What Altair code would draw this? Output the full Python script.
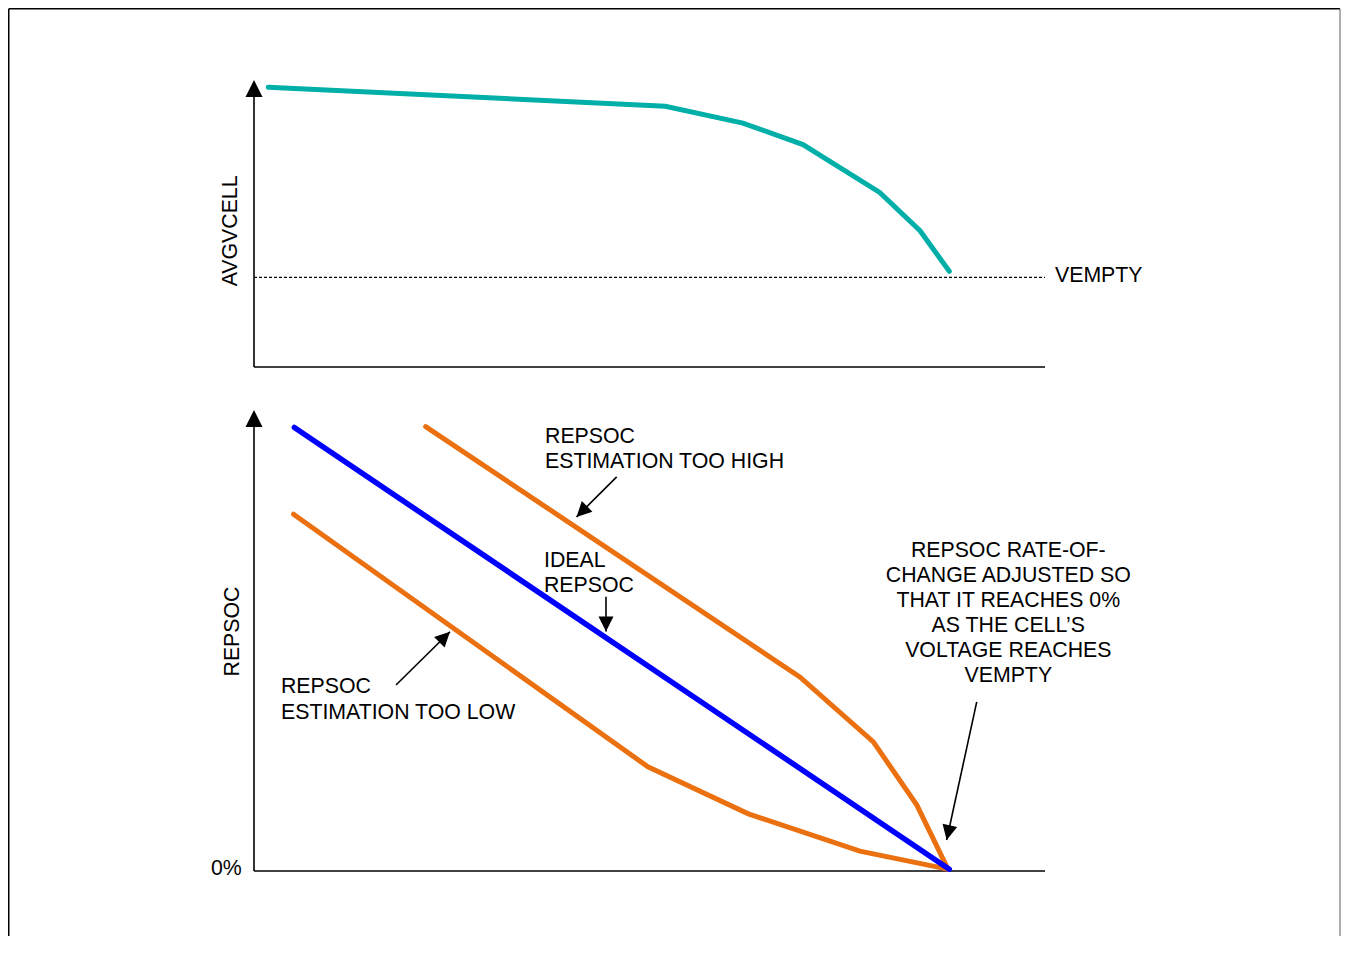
import math
import altair as alt
import pandas as pd

# ---------------- data ----------------
# time axis: 0..100 (% of discharge time), shared by both panels
# top panel: average cell voltage (V)
vcell_t = [1.8, 52.0, 61.8, 69.4, 79.1, 84.2, 87.9]
vcell_v = [4.17, 4.09, 4.02, 3.93, 3.73, 3.57, 3.40]
vempty_v = 3.375

# bottom panel: reported SOC (%)
ideal_t = [5.1, 87.9]
ideal_soc = [96.2, 0.4]
high_t = [21.7, 69.0, 78.3, 83.8, 87.7]
high_soc = [96.4, 42.1, 28.0, 14.3, 0.5]
low_t = [5.0, 49.8, 62.5, 76.6, 87.7]
low_soc = [77.4, 22.6, 12.4, 4.3, 0.4]

# annotation arrows (bottom panel): start -> tip
arr_t1 = [45.85, 44.5, 17.95, 91.37]
arr_s1 = [85.5, 59.5, 40.35, 36.7]
arr_t2 = [40.77, 44.5, 24.78, 87.57]
arr_s2 = [76.8, 51.95, 51.9, 6.72]

# annotation texts (bottom panel)
note_text = ["REPSOC\nESTIMATION TOO HIGH", "IDEAL\nREPSOC", "REPSOC\nESTIMATION TOO LOW"]
note_t = [36.79, 36.66, 3.41]
note_s = [92.9, 66.0, 38.55]
big_note = "REPSOC RATE-OF-\nCHANGE ADJUSTED SO\nTHAT IT REACHES 0%\nAS THE CELL\u2019S\nVOLTAGE REACHES\nVEMPTY"
big_t, big_s = 95.36, 68.2

# ---------------- geometry ----------------
W = 791
TOP_H, BOT_H = 287, 461
X_DOM = [0, 100]
TOP_DOM = [3.0, 4.2]
BOT_DOM = [0, 100]
XPX = W / (X_DOM[1] - X_DOM[0])
YPX_TOP = TOP_H / (TOP_DOM[1] - TOP_DOM[0])
YPX_BOT = BOT_H / (BOT_DOM[1] - BOT_DOM[0])

FONT = "Liberation Sans"
FS = 21.3
TEAL = "#00AFA8"
BLUE = "#0000FF"
ORANGE = "#EB7010"
HEAD = "M0,0 L1,2 L-1,2 Z"


def head_angle(x1, y1, x2, y2, ypx):
    dx = (x2 - x1) * XPX
    dy = -(y2 - y1) * ypx
    return math.degrees(math.atan2(dx, -dy)) % 360


xs = alt.Scale(domain=X_DOM, nice=False, zero=False)
ys_top = alt.Scale(domain=TOP_DOM, nice=False, zero=False)
ys_bot = alt.Scale(domain=BOT_DOM, nice=False, zero=False)


def X(f="x"):
    return alt.X(f"{f}:Q", scale=xs, axis=None)


def line_layer(t, v, color, ys, sw=5):
    df = pd.DataFrame({"x": t, "y": v, "i": range(len(t))})
    return alt.Chart(df).mark_line(color=color, strokeWidth=sw, strokeCap="round",
                                   strokeJoin="miter").encode(
        x=X(), y=alt.Y("y:Q", scale=ys, axis=None), order="i:Q")


def axes_layers(ys, dom, ypx):
    head_len = 17 / ypx
    ax = pd.DataFrame({"x": [0, 0], "y": [dom[0], dom[0]],
                       "x2": [0, 100], "y2": [dom[1] - head_len, dom[0]]})
    rules = alt.Chart(ax).mark_rule(color="black", strokeWidth=1.6).encode(
        x=X(), y=alt.Y("y:Q", scale=ys, axis=None), x2="x2:Q", y2="y2:Q")
    hd = pd.DataFrame({"x": [0], "y": [dom[1]], "a": [0.0]})
    head = alt.Chart(hd).mark_point(shape=HEAD, filled=True, color="black",
                                    opacity=1, size=289, strokeWidth=0).encode(
        x=X(), y=alt.Y("y:Q", scale=ys, axis=None), angle=alt.Angle("a:Q", scale=None))
    return [rules, head]


one = pd.DataFrame({"k": [0]})

# ---------------- top panel ----------------
frame = [
    alt.Chart(one).mark_rule(color="black", strokeWidth=1.5).encode(
        x=alt.value(-245.25), y=alt.value(-71.25), y2=alt.value(856)),
    alt.Chart(one).mark_rule(color="black", strokeWidth=1.5).encode(
        x=alt.value(-245.25), x2=alt.value(1086), y=alt.value(-71.25)),
    alt.Chart(one).mark_rule(color="#777777", strokeWidth=1.2).encode(
        x=alt.value(1086), y=alt.value(-71.25), y2=alt.value(856)),
]

vempty_df = pd.DataFrame({"x": [0], "x2": [100], "y": [vempty_v]})
vempty_rule = alt.Chart(vempty_df).mark_rule(color="black", strokeWidth=1.3,
                                             strokeDash=[3, 2]).encode(
    x=X(), x2="x2:Q", y=alt.Y("y:Q", scale=ys_top, axis=None))

top_txt = pd.DataFrame({"x": [101.26], "y": [3.354], "t": ["VEMPTY"]})
vempty_label = alt.Chart(top_txt).mark_text(font=FONT, fontSize=FS, align="left",
                                            baseline="alphabetic", color="black").encode(
    x=X(), y=alt.Y("y:Q", scale=ys_top, axis=None), text="t:N")

ylab_top = pd.DataFrame({"x": [-2.19], "y": [3.569], "t": ["AVGVCELL"]})
avg_label = alt.Chart(ylab_top).mark_text(font=FONT, fontSize=FS, align="center",
                                          baseline="alphabetic", angle=270,
                                          color="black").encode(
    x=X(), y=alt.Y("y:Q", scale=ys_top, axis=None), text="t:N")

top = alt.layer(
    *frame,
    *axes_layers(ys_top, TOP_DOM, YPX_TOP),
    vempty_rule,
    line_layer(vcell_t, vcell_v, TEAL, ys_top, 5),
    vempty_label,
    avg_label,
).properties(width=W, height=TOP_H)

# ---------------- bottom panel ----------------
arr_df = pd.DataFrame({"x": arr_t1, "y": arr_s1, "x2": arr_t2, "y2": arr_s2})
arr_df["a"] = [head_angle(a, b, c, d, YPX_BOT) for a, b, c, d in
               zip(arr_t1, arr_s1, arr_t2, arr_s2)]
shafts = alt.Chart(arr_df).mark_rule(color="black", strokeWidth=1.6).encode(
    x=X(), y=alt.Y("y:Q", scale=ys_bot, axis=None), x2="x2:Q", y2="y2:Q")
heads = alt.Chart(arr_df).mark_point(shape=HEAD, filled=True, color="black",
                                     opacity=1, size=225, strokeWidth=0).encode(
    x=X("x2"), y=alt.Y("y2:Q", scale=ys_bot, axis=None),
    angle=alt.Angle("a:Q", scale=None))

notes_df = pd.DataFrame({"x": note_t, "y": note_s, "t": note_text})
notes = alt.Chart(notes_df).mark_text(font=FONT, fontSize=FS, align="left",
                                      baseline="alphabetic", lineBreak="\n",
                                      lineHeight=25.7, color="black").encode(
    x=X(), y=alt.Y("y:Q", scale=ys_bot, axis=None), text="t:N")

big_df = pd.DataFrame({"x": [big_t], "y": [big_s], "t": [big_note]})
big = alt.Chart(big_df).mark_text(font=FONT, fontSize=FS, align="center",
                                  baseline="alphabetic", lineBreak="\n",
                                  lineHeight=25, color="black").encode(
    x=X(), y=alt.Y("y:Q", scale=ys_bot, axis=None), text="t:N")

zero_df = pd.DataFrame({"x": [-1.55], "y": [-0.87], "t": ["0%"]})
zero_lab = alt.Chart(zero_df).mark_text(font=FONT, fontSize=FS, align="right",
                                        baseline="alphabetic", color="black").encode(
    x=X(), y=alt.Y("y:Q", scale=ys_bot, axis=None), text="t:N")

ylab_bot = pd.DataFrame({"x": [-1.86], "y": [51.95], "t": ["REPSOC"]})
rep_label = alt.Chart(ylab_bot).mark_text(font=FONT, fontSize=FS, align="center",
                                          baseline="alphabetic", angle=270,
                                          color="black").encode(
    x=X(), y=alt.Y("y:Q", scale=ys_bot, axis=None), text="t:N")

bottom = alt.layer(
    *axes_layers(ys_bot, BOT_DOM, YPX_BOT),
    line_layer(high_t, high_soc, ORANGE, ys_bot, 5),
    line_layer(low_t, low_soc, ORANGE, ys_bot, 5),
    line_layer(ideal_t, ideal_soc, BLUE, ys_bot, 5.5),
    shafts,
    heads,
    notes,
    big,
    zero_lab,
    rep_label,
).properties(width=W, height=BOT_H)

chart = alt.vconcat(top, bottom, spacing=43, bounds="flush").properties(
    padding=0, background="white"
).configure_view(strokeWidth=0)

chart.save("out.html", embed_options={"renderer": "svg", "actions": False})
